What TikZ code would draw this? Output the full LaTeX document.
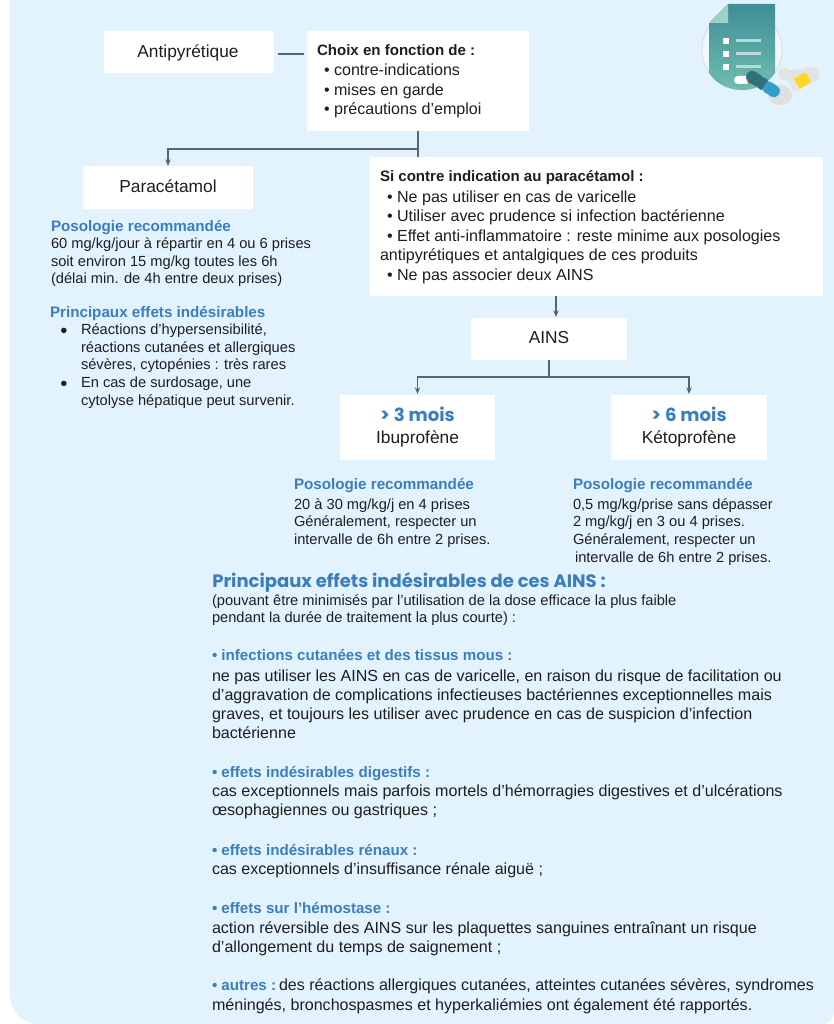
\documentclass[tikz,border=0pt]{standalone}
\usepackage{fontspec}
\setmainfont{Liberation Sans}
\newfontfamily\headfont{Poppins}
\definecolor{panel}{HTML}{E3F3FD}
\definecolor{hblue}{HTML}{3B7EBD}
\definecolor{ink}{HTML}{1E1E1E}
\definecolor{linkc}{HTML}{56666F}
\definecolor{doctop}{HTML}{3F8E96}
\definecolor{docbot}{HTML}{70BDB0}
\usetikzlibrary{arrows.meta,calc}
\tikzset{
  whitebox/.style={fill=white,draw=none,inner sep=0pt,outer sep=0pt},
  txt/.style={anchor=base west,inner sep=0pt,outer sep=0pt,text=ink,yshift=-0.6pt,font=\fontsize{12.05}{14}\selectfont},
  small/.style={txt,yshift=0.6pt,font=\fontsize{11}{13}\selectfont},
  smallb/.style={txt,yshift=0.6pt,text=hblue,font=\fontsize{11.4}{13}\bfseries\selectfont},
  boxb/.style={txt,font=\fontsize{11.3}{13}\bfseries\selectfont},
  head/.style={txt,text=hblue,font=\fontsize{11.35}{13}\bfseries\selectfont},
  label/.style={anchor=base,inner sep=0pt,outer sep=0pt,text=ink,font=\fontsize{13}{15}\selectfont},
  age/.style={anchor=base,inner sep=0pt,outer sep=0pt,text=hblue,font=\headfont\fontsize{13.6}{15}\bfseries\selectfont},
  link/.style={draw=linkc,line width=0.9pt},
  tip/.style={link,-{Stealth[length=5pt,width=4pt]}},
}
\begin{document}
\begin{tikzpicture}[x=0.75pt,y=-0.75pt]
\useasboundingbox (0,0) rectangle (834,1024);
\fill[white] (0,0) rectangle (834,1024);
\fill[panel] (10,0) -- (834,0) -- (834,1012) .. controls (834,1020) and (828,1024) .. (820,1024) -- (40,1024) .. controls (22,1024) and (10,1012) .. (10,994) -- cycle;
% boxes
\node[whitebox,minimum width=127.5pt,minimum height=31.5pt] (anti) at (188.5,52) {};
\node[whitebox,minimum width=166.5pt,minimum height=75pt] (choix) at (418,81) {};
\node[whitebox,minimum width=127.5pt,minimum height=32.25pt] (para) at (168,187.5) {};
\node[whitebox,minimum width=339.75pt,minimum height=104.25pt] (si) at (596.5,226.5) {};
\node[whitebox,minimum width=117pt,minimum height=31.5pt] (ains) at (549,339) {};
\node[whitebox,minimum width=116.25pt,minimum height=48.75pt] (ibu) at (417.5,427.5) {};
\node[whitebox,minimum width=117pt,minimum height=48.75pt] (keto) at (689,427.5) {};
% box labels
\node[label] (tanti) at (188,58) {Antipyrétique};
\node[label] (tpara) at (168,192) {Paracétamol};
\node[label] (tains) at (549,343) {AINS};
\node[age] (t3) at (417.5,421) {> 3 mois};
\node[label] (tibu) at (417.5,443) {Ibuprofène};
\node[age] (t6) at (689,421) {> 6 mois};
\node[label] (tketo) at (689,443) {Kétoprofène};
% choix
\node[boxb] (c0) at (317,55) {Choix en fonction de :};
\node[txt] (c1) at (324,75) {• contre-indications};
\node[txt] (c2) at (324,95) {• mises en garde};
\node[txt] (c3) at (324,114) {• précautions d’emploi};
% si
\node[boxb] (s0) at (380,181) {Si contre indication au paracétamol :};
\node[txt] (s1) at (387,202) {• Ne pas utiliser en cas de varicelle};
\node[txt] (s2) at (387,221) {• Utiliser avec prudence si infection bactérienne};
\node[txt] (s3) at (387,241) {• Effet anti-inflammatoire : reste minime aux posologies};
\node[txt] (s4) at (380,260) {antipyrétiques et antalgiques de ces produits};
\node[txt] (s5) at (387,280) {• Ne pas associer deux AINS};
% left column
\node[smallb] (p0) at (51,231) {Posologie recommandée};
\node[small] (p1) at (51,248) {60 mg/kg/jour à répartir en 4 ou 6 prises};
\node[small] (p2) at (51,266) {soit environ 15 mg/kg toutes les 6h};
\node[small] (p3) at (51,283.5) {(délai min. de 4h entre deux prises)};
\node[smallb] (e0) at (50,317) {Principaux effets indésirables};
\node[txt,font=\fontsize{9.5}{11}\selectfont] (e1b) at (60,334) {●};
\node[small] (e1) at (81,334.5) {Réactions d’hypersensibilité,};
\node[small] (e2) at (81,352) {réactions cutanées et allergiques};
\node[small] (e3) at (81,369) {sévères, cytopénies : très rares};
\node[txt,font=\fontsize{9.5}{11}\selectfont] (e4b) at (60,387) {●};
\node[small] (e4) at (81,387) {En cas de surdosage, une};
\node[small] (e5) at (81,405) {cytolyse hépatique peut survenir.};
% ibu
\node[smallb] (i0) at (294,489) {Posologie recommandée};
\node[small] (i1) at (294,509) {20 à 30 mg/kg/j en 4 prises};
\node[small] (i2) at (294,526) {Généralement, respecter un};
\node[small] (i3) at (294,544) {intervalle de 6h entre 2 prises.};
% keto
\node[smallb] (k0) at (573,489) {Posologie recommandée};
\node[small] (k1) at (573,509) {0,5 mg/kg/prise sans dépasser};
\node[small] (k2) at (573,526) {2 mg/kg/j en 3 ou 4 prises.};
\node[small] (k3) at (573,544) {Généralement, respecter un};
\node[small] (k4) at (575,562) {intervalle de 6h entre 2 prises.};
% effects
\node[anchor=base west,inner sep=0pt,text=hblue,font=\headfont\fontsize{13.5}{15}\bfseries\selectfont] (m0) at (212,587) {Principaux effets indésirables de ces AINS :};
\node[small] (m1) at (212,605) {(pouvant être minimisés par l’utilisation de la dose efficace la plus faible};
\node[small] (m2) at (212,622) {pendant la durée de traitement la plus courte) :};
\node[head] (a0) at (212,660) {• infections cutanées et des tissus mous :};
\node[txt] (a1) at (212,681) {ne pas utiliser les AINS en cas de varicelle, en raison du risque de facilitation ou};
\node[txt] (a2) at (212,700) {d’aggravation de complications infectieuses bactériennes exceptionnelles mais};
\node[txt] (a3) at (212,719) {graves, et toujours les utiliser avec prudence en cas de suspicion d’infection};
\node[txt] (a4) at (212,738) {bactérienne};
\node[head] (b0) at (212,777) {• effets indésirables digestifs :};
\node[txt] (b1) at (212,796) {cas exceptionnels mais parfois mortels d’hémorragies digestives et d’ulcérations};
\node[txt] (b2) at (212,815) {œsophagiennes ou gastriques ;};
\node[head] (d0) at (212,855) {• effets indésirables rénaux :};
\node[txt] (d1) at (212,874) {cas exceptionnels d’insuffisance rénale aiguë ;};
\node[head] (f0) at (212,913) {• effets sur l’hémostase :};
\node[txt] (f1) at (212,933) {action réversible des AINS sur les plaquettes sanguines entraînant un risque};
\node[txt] (f2) at (212,952) {d’allongement du temps de saignement ;};
\node[head] (g0) at (212,990) {• autres :};
\node[txt] (g1) at (279,990) {des réactions allergiques cutanées, atteintes cutanées sévères, syndromes};
\node[txt] (g2) at (212,1010) {méningés, bronchospasmes et hyperkaliémies ont également été rapportés.};
% connectors
\coordinate (antir) at ($(anti.east)+(4,2)$);
\coordinate (choixl) at ($(choix.west)+(-3,-27)$);
\draw[link] (antir) -- (choixl);
\coordinate (j1) at (choix.south |- 0,149);
\draw[link] (choix.south) -- ($(si.north -| choix.south)$);
\draw[tip] (j1) -| (para.north);
\draw[tip] ($(si.south)+(-40.5,0)$) -- ($(ains.north)+(7,-1)$);
\coordinate (j2) at (ains.south |- 0,377);
\draw[link] (ains.south) -- (j2);
\draw[tip] (j2) -| ($(ibu.north)+(0,-1)$);
\draw[tip] (j2) -| ($(keto.north)+(0,-1)$);
% icon
\draw[gray!35,fill=panel!60!white] (742,50) circle[radius=40];
\shade[top color=doctop,bottom color=docbot] (728,4) -- (775,4) -- (775,72.6) .. controls (767,86) and (752,90) .. (742,90) .. controls (732,90) and (717,86) .. (709,72.6) -- (709,23) -- cycle;
\fill[docbot!70!white] (728,4) -- (728,23) -- (709,23) -- cycle;
\foreach \yy in {41,54,67}{
  \fill[white] (723,\yy-3) rectangle (729,\yy+3);
  \fill[white!65!doctop] (736,\yy-1.5) rectangle (761,\yy+1.5);
}
\fill[gray!22] (785,74) ellipse[x radius=7,y radius=6];
\fill[gray!22] (810,75) ellipse[x radius=10,y radius=8];
\fill[gray!22] (797,77) ellipse[x radius=12,y radius=8];
\fill[gray!25] (780,95) ellipse[x radius=12,y radius=10];
\fill[white,rounded corners=3pt] (734,76) rectangle (750,84);
\fill[red!55!gray!90,rounded corners=3pt] (747,76) rectangle (758,84);
\begin{scope}[rotate around={-33:(763,84)}]
\fill[doctop!80!black,rounded corners=4pt] (744,78) rectangle (763,90);
\fill[blue!30!cyan!60!gray,rounded corners=4pt] (763,78) rectangle (782,90);
\fill[doctop!80!black] (760,78) rectangle (765,90);
\end{scope}
\begin{scope}[rotate around={30:(800,82)}]
\fill[yellow!70!orange!85,rounded corners=2pt] (793,76) rectangle (810,88);
\fill[white!80!gray] (790,76) rectangle (796,88);
\end{scope}
\end{tikzpicture}
\end{document}
